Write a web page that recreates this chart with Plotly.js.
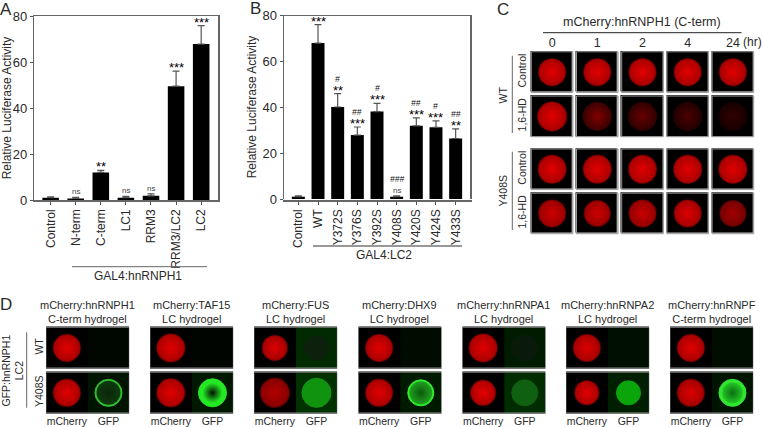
<!DOCTYPE html>
<html>
<head>
<meta charset="utf-8">
<script src="https://cdn.plot.ly/plotly-3.0.1.min.js"></script>
<style>html, body { margin: 0; padding: 0; background: #fff; }</style>
</head>
<body>
<div id="chart" style="width:763px;height:427px"></div>
<script>
// Panel A
const aLabels = ['Control', 'N-term', 'C-term', 'LC1', 'RRM3', 'RRM3/LC2', 'LC2'];
const aValues = [1, 0.7, 12, 1, 1.8, 49.5, 67.8];
const aErrors = [0.4, 0.5, 0.9, 0.6, 0.9, 6.5, 8];
const aSig = ['', 'ns', '**', 'ns', 'ns', '***', '***'];

// Panel B
const bLabels = ['Control', 'WT', 'Y372S', 'Y376S', 'Y392S', 'Y408S', 'Y420S', 'Y424S', 'Y433S'];
const bValues = [1, 67.8, 40, 27.8, 38, 1, 31.8, 31.2, 26.3];
const bErrors = [0.4, 8, 5.8, 3.5, 3.6, 0.4, 3.5, 2.8, 4.2];
const bSig = ['', '***', '**', '***', '***', 'ns', '***', '***', '**'];
const bHash = ['', '', '#', '##', '#', '###', '##', '#', '##'];

// Panel C: red level at the droplet centre, and droplet diameter
const cHours = ['0', '1', '2', '4', '24'];
const cTreatments = ['Control', '1,6-HD'];
const cWtRed = [[225, 225, 225, 225, 225], [225, 130, 105, 75, 50]];
const cWtSize = [[27, 27, 27, 27, 27], [29, 28, 28, 28, 28]];
const cMutRed = [[225, 225, 225, 225, 225], [205, 205, 200, 220, 160]];
const cMutSize = [[28, 28, 28, 28, 28], [27, 26, 27, 27, 26]];

// Panel D
const dTitles = ['mCherry:hnRNPH1', 'mCherry:TAF15', 'mCherry:FUS', 'mCherry:DHX9', 'mCherry:hnRNPA1', 'mCherry:hnRNPA2', 'mCherry:hnRNPF'];
const dSubtitles = ['C-term hydrogel', 'LC hydrogel', 'LC hydrogel', 'LC hydrogel', 'LC hydrogel', 'LC hydrogel', 'C-term hydrogel'];
const dChannels = ['mCherry', 'GFP'];
const dRows = ['WT', 'Y408S'];
const dRedSize = [[27, 28, 25, 27, 28, 27, 27], [27, 28, 29, 27, 25, 24, 27]];
const dRed = [[225, 225, 220, 225, 225, 220, 225], [225, 225, 180, 225, 230, 225, 220]];
const dBgGreen = [[6, 5, 42, 12, 28, 16, 14], [20, 24, 50, 26, 44, 30, 20]];
const dWtGfpSize = [0, 0, 25, 0, 27, 0, 0];
const dWtGfpColor = ['#000', '#000', '#0c200c', '#000', '#0a1a0a', '#000', '#000'];
const dGfpSize = [27, 28, 29, 26, 26, 24, 27];
const dGfpRim = ['#2fc02f', '#24e824', '#109410', '#2cf02c', '#0f6010', '#0aa50a', '#30e630'];
const dGfpInnerSize = [24, 20, 0, 23, 0, 0, 21];
const dGfpInnerRim = ['#0e3c0e', '#24e824', '#109410', '#1fa01f', '#0f6010', '#0aa50a', '#22c822'];
const dGfpCore = ['#0a240a', '#041204', '#109410', '#0c5a0c', '#0f6010', '#0aa50a', '#0c6c14'];

const W = 763, H = 427;
const FONT = 'Liberation Sans, Arial, sans-serif';
const INK = '#2a2a2a';
const px = x => x / W;
const py = y => 1 - y / H;
const xDomain = (a, b) => [px(a), px(b)];
const yDomain = (top, bottom) => [py(bottom), py(top)];

function barTrace(values, errors, xa, ya) {
    return {
        type: 'bar', x: values.map((_, i) => i), y: values, xaxis: xa, yaxis: ya,
        width: 0.66, marker: { color: '#000' },
        error_y: { type: 'data', array: errors, arrayminus: values.map(() => 0), color: '#555', thickness: 1.2, width: 3.5 }
    };
}

function barXAxis(labels, left, right, range) {
    return {
        domain: xDomain(left, right), range: range, tickmode: 'array',
        tickvals: labels.map((_, i) => i), ticktext: labels, tickangle: -90,
        tickfont: { size: 12, color: INK, family: FONT }, ticks: 'outside', ticklen: 3, tickcolor: '#555',
        showline: true, linecolor: '#666', linewidth: 1.5, mirror: true, showgrid: false, zeroline: false
    };
}

function barYAxis(top, bottom, anchor) {
    return {
        domain: yDomain(top, bottom), range: [0, 80], tickvals: [0, 20, 40, 60, 80], anchor: anchor,
        tickfont: { size: 13, color: INK, family: FONT }, ticks: 'outside', ticklen: 3, tickcolor: '#555',
        showline: true, linecolor: '#666', linewidth: 1.5, mirror: true, showgrid: false, zeroline: false,
        title: { text: 'Relative Luciferase Activity', font: { size: 12, color: INK, family: FONT }, standoff: 3 }
    };
}

function gridAxis(extra) {
    return Object.assign({ showgrid: false, zeroline: false, showline: false, ticks: '', fixedrange: true }, extra);
}

function cells(cols, rows, xa, ya, z) {
    return {
        type: 'heatmap', x: cols, y: rows, z: z, xaxis: xa, yaxis: ya, xgap: xa === 'x3' ? 3.5 : 0, ygap: 3.5,
        zmin: 0, zmax: 255, showscale: false, hoverinfo: 'skip',
        colorscale: [[0, '#000'], [1, '#0f0']]
    };
}

function redHex(level, factor) {
    return 'rgb(' + Math.round(level * factor) + ',0,0)';
}

// droplet markers: gradient.color is the centre, marker.color the rim
// opacity has to be set, array sizes make plotly default it to 0.7
function droplets(xs, ys, sizes, centres, rims, xa, ya, lines, lineWidth) {
    return {
        type: 'scatter', mode: 'markers', x: xs, y: ys, xaxis: xa, yaxis: ya, hoverinfo: 'skip',
        marker: {
            size: sizes, color: rims, opacity: 1,
            gradient: { type: 'radial', color: centres },
            line: { color: lines, width: lineWidth }
        }
    };
}

function redDroplets(cols, rows, sizes, levels, xa, ya) {
    const soft = levels.map(l => 'rgba(' + Math.round(l * 0.6) + ',0,0,0.5)');
    const rims = levels.map(l => redHex(l, l < 150 ? 0.45 : 0.74));
    return droplets(cols, rows, sizes, levels.map(l => redHex(l, 1)), rims, xa, ya, soft, 1.5);
}

function frame(xa, ya, x0, x1, y0, y1, color) {
    return { type: 'rect', xref: xa, yref: ya, x0: x0, x1: x1, y0: y0, y1: y1, line: { color: color, width: 1 }, layer: 'above' };
}

const traces = [barTrace(aValues, aErrors, 'x', 'y'), barTrace(bValues, bErrors, 'x2', 'y2')];
const shapes = [];

// panel C, one subplot for each genotype
const cCols = cHours.map((_, i) => i);
function addPanelC(red, size, ya) {
    traces.push(cells(cCols, [0, 1], 'x3', ya, [cHours.map(() => 0), cHours.map(() => 0)]));
    [0, 1].forEach(r => {
        traces.push(redDroplets(cCols, cCols.map(() => r), size[r], red[r], 'x3', ya));
        cCols.forEach(c => shapes.push(frame('x3', ya, c - 0.46, c + 0.46, r - 0.46, r + 0.46, '#999')));
    });
}
addPanelC(cWtRed, cWtSize, 'y3');
addPanelC(cMutRed, cMutSize, 'y4');

// panel D, one x axis for each hydrogel
const dLeft = [46, 150, 254, 358.3, 462.3, 566, 670];
const dAxes = {};
const annotations = [];
dTitles.forEach((title, g) => {
    const n = 4 + g;
    dAxes['xaxis' + n] = gridAxis({
        domain: xDomain(dLeft[g], dLeft[g] + 83.3), range: [-0.5, 1.5], anchor: 'y5',
        tickmode: 'array', tickvals: [0, 1], ticktext: dChannels,
        tickfont: { size: 10.5, color: INK, family: FONT }, ticklen: 0, ticklabelstandoff: -2
    });
    const xa = 'x' + n;
    traces.push(cells([0, 1], [0, 1], xa, 'y5', [[0, dBgGreen[0][g]], [0, dBgGreen[1][g]]]));
    traces.push(redDroplets([0, 0], [0, 1], [dRedSize[0][g], dRedSize[1][g]], [dRed[0][g], dRed[1][g]], xa, 'y5'));
    traces.push(droplets([1], [1], [dGfpSize[g]], [dGfpRim[g]], [dGfpRim[g]], xa, 'y5', [dGfpRim[g]], 1));
    if (dGfpInnerSize[g]) {
        traces.push(droplets([1], [1], [dGfpInnerSize[g]], [dGfpCore[g]], [dGfpInnerRim[g]], xa, 'y5', [dGfpInnerRim[g]], 0));
    }
    if (dWtGfpSize[g]) {
        traces.push(droplets([1], [0], [dWtGfpSize[g]], [dWtGfpColor[g]], [dWtGfpColor[g]], xa, 'y5', [dWtGfpColor[g]], 0));
    }
    [0, 1].forEach(r => shapes.push(frame(xa, 'y5', -0.5, 1.5, r - 0.455, r + 0.455, '#666')));
    annotations.push({
        xref: 'paper', yref: 'paper', x: px(dLeft[g] + 41.6), y: py(312), xanchor: 'center', yanchor: 'middle',
        text: title + '<br>' + dSubtitles[g], showarrow: false, font: { size: 11, color: INK, family: FONT }
    });
});

function note(text, x, y, size, angle, color) {
    annotations.push({
        xref: 'paper', yref: 'paper', x: px(x), y: py(y), xanchor: 'center', yanchor: 'middle',
        text: text, showarrow: false, textangle: angle || 0,
        font: { size: size, color: color || INK, family: FONT }
    });
}

function sigNotes(labels, values, errors, xa, ya) {
    labels.forEach((label, i) => {
        if (!label) return;
        const isNs = label === 'ns';
        annotations.push({
            xref: xa, yref: ya, x: i, y: values[i] + errors[i], xanchor: 'center', yanchor: 'bottom',
            yshift: isNs ? -1 : -6, showarrow: false, text: label,
            font: { size: isNs ? 8 : 13, color: isNs ? '#444' : '#000', family: FONT }
        });
    });
}
sigNotes(aSig, aValues, aErrors, 'x', 'y');
sigNotes(bSig, bValues, bErrors, 'x2', 'y2');
bHash.forEach((label, i) => {
    if (!label) return;
    annotations.push({
        xref: 'x2', yref: 'y2', x: i, y: bValues[i] + bErrors[i], xanchor: 'center', yanchor: 'bottom',
        yshift: bSig[i] === 'ns' ? 10 : 8, showarrow: false, text: '<i>' + label + '</i>',
        font: { size: 8.5, color: '#111', family: FONT }
    });
});

note('A', 6, 9, 17); note('B', 255.5, 8, 17); note('C', 502.5, 9, 17); note('D', 6, 304, 17);
note('GAL4:hnRNPH1', 138, 276, 12);
note('GAL4:LC2', 383.5, 255, 12);
note('mCherry:hnRNPH1 (C-term)', 642, 22.5, 12.5);
note('(hr)', 752, 42, 12);
note('WT', 502.5, 95, 10.5, -90);
note('Y408S', 502.5, 191, 10.5, -90);
note('GFP:hnRNPH1<br>LC2', 12.5, 371, 10.5, -90);

function rule(x0, y0, x1, y1, color) {
    return {
        type: 'line', xref: 'paper', yref: 'paper', x0: px(x0), y0: py(y0), x1: px(x1), y1: py(y1),
        line: { color: color, width: 1 }
    };
}

shapes.push(
    rule(72, 266.7, 207, 266.7, '#666'),
    rule(313, 246, 462, 246, '#333'),
    rule(543, 32.7, 741.5, 32.7, '#222'),
    rule(512.3, 55.7, 512.3, 133, '#666'),
    rule(512.3, 151.7, 512.3, 230, '#666'),
    rule(26.7, 332.3, 26.7, 407.7, '#666')
);

const layout = Object.assign({
    width: W, height: H, margin: { l: 0, r: 0, t: 0, b: 0 },
    paper_bgcolor: '#fff', plot_bgcolor: '#fff', showlegend: false,
    xaxis: barXAxis(aLabels, 34.3, 218, [-0.65, 6.67]),
    yaxis: barYAxis(16, 200, 'x'),
    xaxis2: barXAxis(bLabels, 284, 470, [-0.73, 8.73]),
    yaxis2: barYAxis(15, 199, 'x2'),
    xaxis3: gridAxis({
        domain: xDomain(529.5, 755.5), range: [-0.5, 4.5], anchor: 'y3', side: 'top',
        tickmode: 'array', tickvals: cCols, ticktext: cHours, ticklen: 0,
        tickfont: { size: 12.5, color: INK, family: FONT }
    }),
    yaxis3: gridAxis({
        domain: yDomain(50, 138.5), range: [1.5, -0.5], anchor: 'x3',
        tickmode: 'array', tickvals: [0, 1], ticktext: cTreatments, tickangle: -90, ticklen: 0,
        tickfont: { size: 10.5, color: INK, family: FONT }
    }),
    yaxis4: gridAxis({
        domain: yDomain(147.2, 235.5), range: [1.5, -0.5], anchor: 'x3',
        tickmode: 'array', tickvals: [0, 1], ticktext: cTreatments, tickangle: -90, ticklen: 0,
        tickfont: { size: 10.5, color: INK, family: FONT }
    }),
    yaxis5: gridAxis({
        domain: yDomain(325.5, 415.3), range: [1.5, -0.5], anchor: 'x4',
        tickmode: 'array', tickvals: [0, 1], ticktext: dRows, tickangle: -90, ticklen: 0,
        tickfont: { size: 10.5, color: INK, family: FONT }
    }),
    annotations: annotations,
    shapes: shapes
}, dAxes);

Plotly.newPlot('chart', traces, layout, { displayModeBar: false, staticPlot: true });
</script>
</body>
</html>
